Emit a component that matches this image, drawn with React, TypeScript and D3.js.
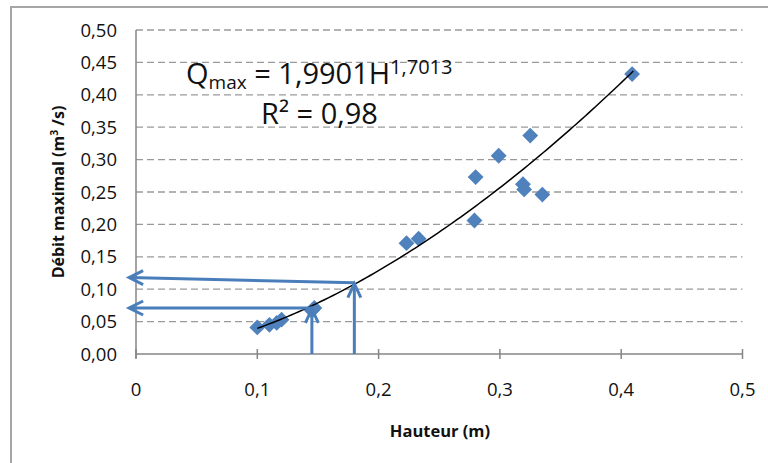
import React from "react";
import * as d3 from "d3";

const hauteur = [0.100, 0.110, 0.116, 0.120, 0.145, 0.147, 0.223, 0.233, 0.279, 0.280, 0.299, 0.319, 0.320, 0.325, 0.335, 0.409];
const debit = [0.041, 0.045, 0.048, 0.053, 0.067, 0.071, 0.171, 0.178, 0.206, 0.273, 0.306, 0.262, 0.254, 0.337, 0.246, 0.432];
const xTicks = [0, 0.1, 0.2, 0.3, 0.4, 0.5];
const yTicks = [0, 0.05, 0.1, 0.15, 0.2, 0.25, 0.3, 0.35, 0.4, 0.45, 0.5];
const trendCoef = 1.9901;
const trendExp = 1.7013;
const trendRange = [0.1, 0.41];
// guide arrows: [H, Q at curve, Q at left end]
const arrowH = [0.18, 0.145];
const arrowQcurve = [0.110, 0.071];
const arrowQleft = [0.118, 0.071];
const arrowLeftH = -0.0065;

const W = 768, H = 463;
const left = 136, right = 742.5, top = 30, bottom = 354;
const blue = "#4F81BD";
const font = "'Open Sans', sans-serif";

export default function App() {
  const x = d3.scaleLinear().domain([0, 0.5]).range([left, right]);
  const y = d3.scaleLinear().domain([0, 0.5]).range([bottom, top]);
  const fmtX = (v: number) => (v === 0 ? "0" : v.toFixed(1).replace(".", ","));
  const fmtY = (v: number) => v.toFixed(2).replace(".", ",");

  const trendPts = d3.range(0, 101).map((i) => {
    const h = trendRange[0] + (trendRange[1] - trendRange[0]) * (i / 100);
    return [h, trendCoef * Math.pow(h, trendExp)] as [number, number];
  });
  const trendLine = d3.line<[number, number]>().x((d) => x(d[0])).y((d) => y(d[1]))(trendPts) || "";

  const diamond = d3.symbol().type(d3.symbolDiamond2).size(160)() || "";

  return (
    <svg width={W} height={H} style={{ position: "absolute", left: 0, top: 0 }} fontFamily={font}>
      <rect x={0} y={0} width={W} height={H} fill="#fff" />
      {/* frame */}
      <path d={`M11,${H} L11,7 L${W},7`} fill="none" stroke="#a6a6a6" strokeWidth={2} />
      {/* gridlines */}
      {yTicks.filter((t) => t > 0).map((t) => (
        <line key={t} x1={left} x2={right} y1={y(t)} y2={y(t)} stroke="#9a9a9a" strokeWidth={1.3} strokeDasharray="7,4" />
      ))}
      {/* axes */}
      <line x1={left} x2={left} y1={top} y2={bottom + 4} stroke="#868686" strokeWidth={1.5} />
      <line x1={left} x2={right} y1={bottom} y2={bottom} stroke="#868686" strokeWidth={1.5} />
      {xTicks.map((t) => (
        <line key={t} x1={x(t)} x2={x(t)} y1={bottom - 5} y2={bottom + 5} stroke="#868686" strokeWidth={1.5} />
      ))}
      {/* tick labels */}
      {yTicks.map((t) => (
        <text key={t} x={117} y={y(t) + 6.5} textAnchor="end" fontSize={18.5} fill="#111">{fmtY(t)}</text>
      ))}
      {xTicks.map((t) => (
        <text key={t} x={x(t)} y={396} textAnchor="middle" fontSize={18.5} fill="#111">{fmtX(t)}</text>
      ))}
      {/* axis titles */}
      <text x={440} y={437} textAnchor="middle" fontSize={16.5} fontWeight="bold" fill="#111">Hauteur (m)</text>
      <text transform="translate(64,192) rotate(-90)" textAnchor="middle" fontSize={16} fontWeight="bold" fill="#111">
        Débit maximal  (m<tspan fontSize={10.5} dy={-6}>3</tspan><tspan dy={6}> /s)</tspan>
      </text>
      {/* data points */}
      {hauteur.map((h, i) => (
        <path key={i} d={diamond} transform={`translate(${x(h)},${y(debit[i])})`} fill={blue} />
      ))}
      {/* trendline */}
      <path d={trendLine} fill="none" stroke="#000" strokeWidth={1.5} />
      {/* arrows */}
      {arrowH.map((h, i) => {
        const xv = x(h), yc = y(arrowQcurve[i]), yl = y(arrowQleft[i]), xl = x(arrowLeftH);
        return (
          <g key={i} stroke="#4A7EBB" strokeWidth={3} fill="none" strokeLinecap="butt">
            <line x1={xv} x2={xv} y1={bottom} y2={yc + 1} />
            <path d={`M${xv - 6.5},${yc + 15} L${xv},${yc + 1} L${xv + 6.5},${yc + 15}`} />
            <line x1={xv} x2={xl + 1} y1={yc} y2={yl} />
            <path d={`M${xl + 15},${yl - 7} L${xl + 1},${yl} L${xl + 15},${yl + 7}`} />
          </g>
        );
      })}
      {/* equation */}
      <g fill="#111">
        <text x={186} y={84} fontSize={29}>
          Q<tspan fontSize={19} dy={5}>max</tspan><tspan dy={-5}> = 1,9901H</tspan><tspan fontSize={20} dy={-10}>1,7013</tspan>
        </text>
        <text x={261} y={124} fontSize={29}>R² = 0,98</text>
      </g>
    </svg>
  );
}
